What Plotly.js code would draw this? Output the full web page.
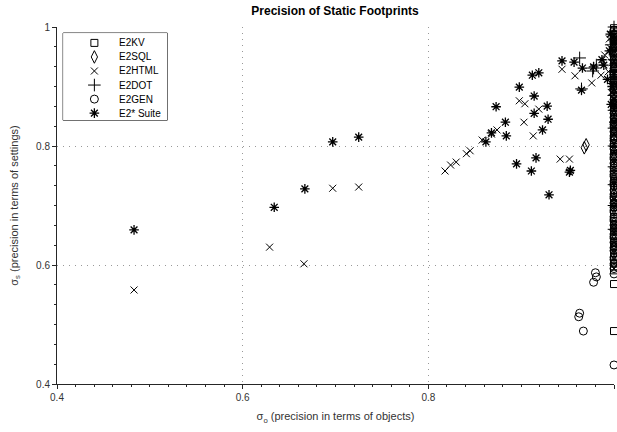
<!DOCTYPE html>
<html><head><meta charset="utf-8">
<script src="https://cdn.plot.ly/plotly-3.0.1.min.js"></script>
<style>html,body{margin:0;padding:0;background:#fff}#chart{width:617px;height:432px}</style>
</head><body><div id="chart"></div>
<script>
// ---- data ----
const seriesNames = ['E2KV', 'E2SQL', 'E2HTML', 'E2DOT', 'E2GEN', 'E2* Suite'];

const kvX = [1, 1, 1, 1, 1, 1, 1, 1, 1, 1, 1, 1, 1, 1, 1, 1, 1, 1, 1, 1, 1, 1, 1, 1, 1,
             1, 1, 1, 1, 1, 1, 1, 1, 1, 1, 1, 1, 1,
             1, 1, 1, 1, 1, 1, 1, 1, 1, 1, 1, 1, 1, 1,
             1, 1, 1, 1, 1, 1, 1, 1, 1, 1, 1, 1, 1, 1, 1, 1, 1, 1];
const kvY = [0.998, 0.991, 0.983, 0.972, 0.960, 0.947, 0.933, 0.918, 0.902, 0.884, 0.866, 0.845, 0.826,
             0.805, 0.783, 0.760, 0.738, 0.714, 0.692, 0.668, 0.645, 0.620, 0.598, 0.568, 0.489,
             0.995, 0.978, 0.954, 0.926, 0.894, 0.857, 0.816, 0.772, 0.726, 0.680, 0.656, 0.631, 0.608,
             0.988, 0.965, 0.940, 0.910, 0.876, 0.837, 0.798, 0.753, 0.709, 0.686, 0.662, 0.637, 0.614, 0.591,
             0.981, 0.957, 0.944, 0.922, 0.898, 0.871, 0.852, 0.833, 0.811, 0.792, 0.767, 0.744, 0.722,
             0.697, 0.673, 0.651, 0.626, 0.604];

const sqlX = [0.968, 0.970, 1, 1, 1, 1, 1, 1, 1, 1, 1, 1, 1, 1, 1, 1, 1, 1, 1,
              1, 1, 1, 1, 1, 1, 1, 1, 1, 1,
              1, 1, 1, 1, 1, 1, 1, 1, 1, 1, 1];
const sqlY = [0.797, 0.802, 0.987, 0.968, 0.952, 0.931, 0.909, 0.887, 0.862, 0.838, 0.812, 0.790,
              0.768, 0.742, 0.720, 0.695, 0.670, 0.642, 0.618,
              0.975, 0.941, 0.898, 0.851, 0.822, 0.779, 0.731, 0.706, 0.659, 0.629,
              0.963, 0.935, 0.905, 0.871, 0.829, 0.784, 0.746, 0.701, 0.664, 0.634, 0.603];

const htmlX = [0.483, 0.629, 0.666, 0.697, 0.725, 0.818, 0.824, 0.830, 0.841, 0.845, 0.858, 0.868,
               0.874, 0.898, 0.904, 0.903, 0.913, 0.919, 0.944, 0.958, 0.976, 0.986, 0.990, 0.942,
               0.952, 0.996, 0.998, 1, 1, 1, 1, 1, 1, 0.994, 0.997, 0.995];
const htmlY = [0.558, 0.630, 0.602, 0.729, 0.731, 0.758, 0.768, 0.773, 0.787, 0.792, 0.810, 0.820,
               0.827, 0.876, 0.871, 0.840, 0.817, 0.862, 0.929, 0.918, 0.906, 0.919, 0.953, 0.778,
               0.778, 0.965, 0.940, 0.985, 0.910, 0.880, 0.850, 0.820, 0.790, 0.925, 0.890, 0.980];

const dotX = [0.963, 0.978, 0.981, 0.977, 0.965, 1, 1, 1, 1, 1, 1, 1, 1, 1, 0.997,
              1, 1, 1, 1, 1, 1];
const dotY = [0.948, 0.931, 0.936, 0.926, 0.896, 1.000, 0.992, 0.978, 0.962, 0.945, 0.925, 0.905,
              0.885, 0.860, 0.970, 0.830, 0.800, 0.765, 0.735, 0.700, 0.660];

const genX = [0.980, 0.981, 0.978, 0.963, 0.962, 0.967, 1, 1, 1, 1, 1, 1, 1, 1, 1, 1, 1, 1, 1, 1,
              1, 1, 1, 1, 1, 1, 1, 1, 1, 1, 1, 1, 1, 1, 1, 1, 1,
              1, 1, 1, 1, 1, 1, 1, 1, 1, 1, 1, 1, 1, 1, 1, 1, 1, 1, 1, 1,
              1, 1, 1, 1, 1, 1, 1, 1, 1, 1, 1, 1, 1, 1, 1, 1, 1, 1];
const genY = [0.587, 0.580, 0.571, 0.519, 0.513, 0.489, 0.994, 0.979, 0.966, 0.951, 0.938, 0.922,
              0.907, 0.893, 0.878, 0.861, 0.848, 0.832, 0.817, 0.803, 0.786, 0.771, 0.757, 0.741,
              0.726, 0.712, 0.697, 0.681, 0.667, 0.652, 0.638, 0.624, 0.613, 0.602, 0.594, 0.585, 0.432,
              0.987, 0.958, 0.930, 0.914, 0.886, 0.869, 0.840, 0.824, 0.809, 0.795, 0.778, 0.763, 0.749,
              0.733, 0.719, 0.704, 0.689, 0.674, 0.659, 0.645,
              0.972, 0.945, 0.918, 0.900, 0.873, 0.855, 0.836, 0.813, 0.799, 0.781, 0.752, 0.737,
              0.715, 0.692, 0.677, 0.648, 0.629, 0.609];

const suiteX = [0.483, 0.634, 0.667, 0.697, 0.725, 0.873, 0.883, 0.884, 0.862, 0.868, 0.898, 0.912,
                0.919, 0.914, 0.914, 0.928, 0.929, 0.923, 0.895, 0.916, 0.911, 0.952, 0.953, 0.930,
                0.944, 0.957, 0.966, 0.978, 0.965, 0.987, 0.989, 0.995, 0.998, 1, 1, 1, 1,
                0.996, 0.993, 0.997];
const suiteY = [0.659, 0.697, 0.728, 0.807, 0.815, 0.866, 0.840, 0.817, 0.807, 0.822, 0.899, 0.919,
                0.923, 0.884, 0.855, 0.867, 0.845, 0.827, 0.770, 0.780, 0.758, 0.756, 0.759, 0.718,
                0.943, 0.941, 0.931, 0.933, 0.894, 0.945, 0.936, 0.960, 0.900, 0.975, 0.920, 0.870, 0.840,
                0.988, 0.912, 0.870];

const xTickVals = [0.4, 0.6, 0.8, 1];
const yTickVals = [0.4, 0.6, 0.8, 1];

// ---- styles ----
const styles = [
  {symbol: 'square-open', size: 7, lw: 1},
  {symbol: 'diamond-tall-open', size: 9, lw: 1},
  {symbol: 'x-thin-open', size: 7, lw: 1},
  {symbol: 'cross-thin-open', size: 9, lw: 1},
  {symbol: 'circle-open', size: 8, lw: 1},
  {symbol: 'asterisk-open', size: 8, lw: 1.3}
];
const seriesData = [[kvX, kvY], [sqlX, sqlY], [htmlX, htmlY], [dotX, dotY], [genX, genY], [suiteX, suiteY]];
const FONT = 'Liberation Sans, Arial, sans-serif';

const traces = [];
seriesData.forEach(function (d, i) {
  traces.push({
    type: 'scatter', mode: 'markers', name: seriesNames[i], x: d[0], y: d[1],
    cliponaxis: false, showlegend: false, hoverinfo: 'skip',
    marker: {symbol: styles[i].symbol, size: styles[i].size, color: '#000',
             line: {color: '#000', width: styles[i].lw}}
  });
});
// compact legend: entries placed by their index on a small helper axis pair
seriesNames.forEach(function (n, i) {
  traces.push({
    type: 'scatter', mode: 'markers', x: [0.3], y: [i], xaxis: 'x2', yaxis: 'y2',
    showlegend: false, hoverinfo: 'skip', cliponaxis: false,
    marker: {symbol: styles[i].symbol, size: styles[i].size, color: '#000',
             line: {color: '#000', width: styles[i].lw}}
  });
});
const annotations = seriesNames.map(function (n, i) {
  return {xref: 'x2', yref: 'y2', x: 0.52, y: i, text: n, showarrow: false,
          xanchor: 'left', yanchor: 'middle', font: {family: FONT, size: 10, color: '#000'}};
});

const tickFont = {family: FONT, size: 10, color: '#333'};
const layout = {
  width: 617, height: 432,
  margin: {l: 57, r: 3, t: 27, b: 48},
  paper_bgcolor: '#fff', plot_bgcolor: '#fff',
  title: {text: '<b>Precision of Static Footprints</b>', x: 0.543, xanchor: 'center', y: 0.984, yanchor: 'top',
          font: {family: FONT, size: 12, color: '#000'}},
  font: {family: FONT},
  xaxis: {
    range: [0.4, 1], tickvals: xTickVals, showgrid: true, gridcolor: '#999', griddash: '1px,5px', gridwidth: 1,
    zeroline: false, showline: true, linecolor: '#262626', linewidth: 1,
    ticks: 'outside', ticklen: 4, tickcolor: '#262626', tickfont: tickFont,
    minor: {dtick: 0.02, ticks: 'outside', ticklen: 2, tickcolor: '#262626', showgrid: false},
    title: {text: 'σ<sub>o</sub> (precision in terms of objects)', standoff: 10,
            font: {family: FONT, size: 11, color: '#333'}},
    fixedrange: true
  },
  yaxis: {
    range: [0.4, 1], tickvals: yTickVals, showgrid: true, gridcolor: '#999', griddash: '1px,5px', gridwidth: 1,
    zeroline: false, showline: true, linecolor: '#262626', linewidth: 1,
    ticks: 'outside', ticklen: 4, tickcolor: '#262626', tickfont: tickFont,
    minor: {dtick: 0.2 / 6, ticks: 'outside', ticklen: 2, tickcolor: '#262626', showgrid: false},
    title: {text: 'σ<sub>s</sub> (precision in terms of settings)', standoff: 15,
            font: {family: FONT, size: 11, color: '#333'}},
    fixedrange: true
  },
  xaxis2: {domain: [0.011, 0.198], range: [0, 1], anchor: 'y2', visible: false, fixedrange: true},
  yaxis2: {domain: [0.739, 0.983], range: [5.5, -0.7], anchor: 'x2', visible: false, fixedrange: true},
  shapes: [{type: 'rect', xref: 'paper', yref: 'paper', x0: 0.011, x1: 0.198, y0: 0.739, y1: 0.983,
            line: {color: '#000', width: 1}, fillcolor: 'rgba(0,0,0,0)', layer: 'below'}],
  annotations: annotations,
  showlegend: false
};

Plotly.newPlot('chart', traces, layout, {displayModeBar: false, staticPlot: true});
</script>
</body></html>
